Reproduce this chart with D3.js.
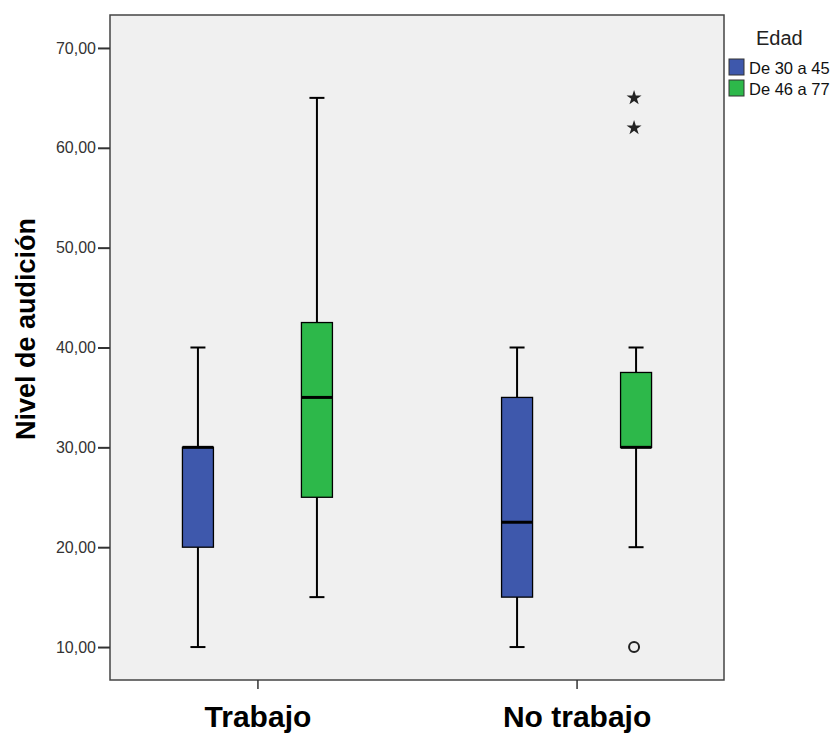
<!DOCTYPE html>
<html>
<head>
<meta charset="utf-8">
<script src="https://cdn.jsdelivr.net/npm/d3@7"></script>
<style>
  body { margin: 0; background: #fff; }
  svg { font-family: "Liberation Sans", Arial, sans-serif; }
</style>
</head>
<body>
<div id="chart"></div>
<script>
// data
const groups = ["Trabajo", "No trabajo"];
const ageSeries = ["De 30 a 45", "De 46 a 77"];
const seriesColors = ["#3e58ac", "#2db84a"];
const yTicks = [10, 20, 30, 40, 50, 60, 70];

// [group, series, whiskerLow, q1, median, q3, whiskerHigh]
const boxStats = [
    ["Trabajo", "De 30 a 45", 10, 20, 30, 30, 40],
    ["Trabajo", "De 46 a 77", 15, 25, 35, 42.5, 65],
    ["No trabajo", "De 30 a 45", 10, 15, 22.5, 35, 40],
    ["No trabajo", "De 46 a 77", 20, 30, 30, 37.5, 40]
];
// [group, series, value, kind]
const outliers = [
    ["No trabajo", "De 46 a 77", 10, "circle"],
    ["No trabajo", "De 46 a 77", 62, "star"],
    ["No trabajo", "De 46 a 77", 65, "star"]
];

const width = 833, height = 735;
const margin = { top: 15, right: 109, bottom: 55, left: 110 };
const innerW = width - margin.left - margin.right;
const innerH = height - margin.top - margin.bottom;

const svg = d3.select("#chart").append("svg")
    .attr("width", width)
    .attr("height", height);

const g = svg.append("g")
    .attr("transform", `translate(${margin.left},${margin.top})`);

const x = d3.scalePoint().domain(groups).range([0, innerW]).padding(0.462);
const sub = d3.scalePoint().domain(ageSeries).range([-59.5, 59.5]);
const y = d3.scaleLinear().domain([6.7, 73.3]).range([innerH, 0]);
const color = d3.scaleOrdinal().domain(ageSeries).range(seriesColors);

// plot background
g.append("rect")
    .attr("width", innerW)
    .attr("height", innerH)
    .attr("fill", "#f0f0f0");

const boxW = 31, capW = 15;

const boxes = g.selectAll("g.box")
    .data(boxStats)
    .join("g")
    .attr("class", "box")
    .attr("transform", d => `translate(${x(d[0]) + sub(d[1])},0)`);

// whiskers
boxes.append("line")
    .attr("y1", d => y(d[2])).attr("y2", d => y(d[6]))
    .attr("stroke", "#000").attr("stroke-width", 2);
boxes.append("line")
    .attr("x1", -capW / 2).attr("x2", capW / 2)
    .attr("y1", d => y(d[2])).attr("y2", d => y(d[2]))
    .attr("stroke", "#000").attr("stroke-width", 2);
boxes.append("line")
    .attr("x1", -capW / 2).attr("x2", capW / 2)
    .attr("y1", d => y(d[6])).attr("y2", d => y(d[6]))
    .attr("stroke", "#000").attr("stroke-width", 2);

// box
boxes.append("rect")
    .attr("x", -boxW / 2)
    .attr("width", boxW)
    .attr("y", d => y(d[5]))
    .attr("height", d => y(d[3]) - y(d[5]))
    .attr("fill", d => color(d[1]))
    .attr("stroke", "#000")
    .attr("stroke-width", 1.3);

// median
boxes.append("line")
    .attr("x1", -boxW / 2).attr("x2", boxW / 2)
    .attr("y1", d => y(d[4])).attr("y2", d => y(d[4]))
    .attr("stroke", "#000").attr("stroke-width", 3);

// outliers
const star = d3.symbol().type(d3.symbolStar).size(70);
outliers.forEach(o => {
    const cx = x(o[0]) + sub(o[1]) - 2, cy = y(o[2]);
    if (o[3] === "circle") {
        g.append("circle")
            .attr("cx", cx).attr("cy", cy).attr("r", 5)
            .attr("fill", "none").attr("stroke", "#222").attr("stroke-width", 2);
    } else {
        g.append("path")
            .attr("d", star)
            .attr("transform", `translate(${cx},${cy})`)
            .attr("fill", "#222");
    }
});

// border
g.append("rect")
    .attr("width", innerW)
    .attr("height", innerH)
    .attr("fill", "none")
    .attr("stroke", "#444")
    .attr("stroke-width", 1.5);

// Y axis
const yAxis = g.append("g")
    .call(d3.axisLeft(y).tickValues(yTicks).tickSize(12).tickPadding(2)
        .tickFormat(d => d3.format(".2f")(d).replace(".", ",")));
yAxis.select(".domain").remove();
yAxis.selectAll("line").attr("stroke", "#333").attr("stroke-width", 2);
yAxis.selectAll("text").attr("font-size", 16).attr("fill", "#333")
    .attr("font-family", "'Liberation Sans', Arial, sans-serif");

// X axis
const xAxis = g.append("g")
    .attr("transform", `translate(0,${innerH})`)
    .call(d3.axisBottom(x).tickSize(9).tickPadding(17));
xAxis.select(".domain").remove();
xAxis.selectAll("line").attr("stroke", "#333").attr("stroke-width", 1.5);
xAxis.selectAll("text")
    .attr("font-size", 30)
    .attr("font-weight", "bold")
    .attr("fill", "#000")
    .attr("font-family", "'Liberation Sans', Arial, sans-serif");

// Y label
svg.append("text")
    .attr("transform", `translate(35,329) rotate(-90)`)
    .attr("text-anchor", "middle")
    .attr("font-size", 27)
    .attr("font-weight", "bold")
    .text("Nivel de audición");

// legend
const legend = svg.append("g").attr("transform", "translate(729,0)");
legend.append("text")
    .attr("x", 27).attr("y", 45)
    .attr("font-size", 20)
    .attr("fill", "#222")
    .text("Edad");
const items = legend.selectAll("g.item")
    .data(ageSeries)
    .join("g")
    .attr("class", "item")
    .attr("transform", (d, i) => `translate(0,${59 + i * 21})`);
items.append("rect")
    .attr("width", 15).attr("height", 16)
    .attr("fill", d => color(d))
    .attr("stroke", "#333");
items.append("text")
    .attr("x", 20).attr("y", 15)
    .attr("font-size", 16.5)
    .attr("fill", "#111")
    .text(d => d);
</script>
</body>
</html>
